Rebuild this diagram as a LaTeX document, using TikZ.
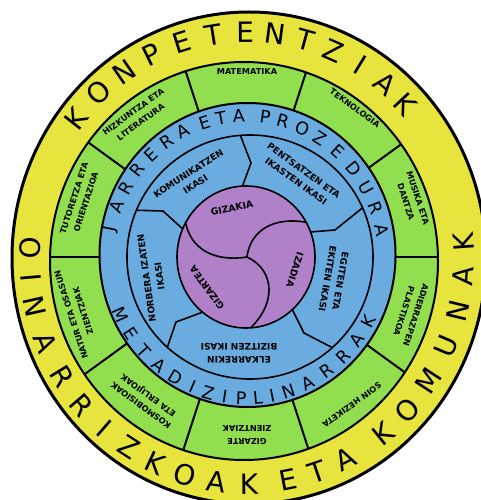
\documentclass[tikz,border=0pt]{standalone}
\usepackage{fontspec}
\setmainfont{DejaVu Sans}
\definecolor{yel}{RGB}{232,228,62}
\definecolor{grn}{RGB}{145,222,78}
\definecolor{blu}{RGB}{106,172,224}
\definecolor{pur}{RGB}{176,128,200}
\tikzset{
 ringletter/.style={font=\fontsize{28}{28}\selectfont, inner sep=0pt},
 bandletter/.style={font=\fontsize{17.5}{17.5}\selectfont, inner sep=0pt},
 greenlab/.style={font=\bfseries\fontsize{8.2}{12.5}\selectfont, align=center, inner sep=0pt},
 bluelab/.style={font=\bfseries\fontsize{9}{13}\selectfont, align=center, inner sep=0pt},
 purplelab/.style={font=\bfseries\fontsize{9.3}{11}\selectfont, inner sep=0pt},
 ringline/.style={line width=2pt},
 thinline/.style={line width=1.6pt},
}
\begin{document}
\begin{tikzpicture}[x=1pt,y=-1pt,line join=round]
\useasboundingbox (0,0) rectangle (481,500);
\fill[white] (0,0) rectangle (481,500);
\clip (0,0) rectangle (481,500);
% outer yellow ring
\filldraw[fill=yel, line width=3pt] (249,258) ellipse [x radius=237pt, y radius=246pt];
% green ring
\filldraw[fill=grn, ringline] (244,261) ellipse [x radius=194pt, y radius=199pt];
\begin{scope}
 \clip (244,261) ellipse [x radius=194pt, y radius=199pt];
 \coordinate (c0) at (246,257);
 \foreach \a [count=\i] in {0,36,...,324}
   \draw[ringline] (c0) -- ++({260*cos(\a)},{-260*sin(\a)}) coordinate (g\i);
\end{scope}
% blue disc
\filldraw[fill=blu, ringline] (247.5,255) ellipse [x radius=148pt, y radius=152pt];
\begin{scope}
 \clip (250,257) ellipse [x radius=123pt, y radius=122pt];
 \draw[thinline] (237.5,128) -- (251,163) -- (241,190);
 \draw[thinline] (366,205) -- (335,230) -- (310,232);
 \draw[thinline] (333,348) -- (304,333) -- (292,309);
 \draw[thinline] (164,357) -- (176,322) -- (203,312);
 \draw[thinline] (128,210) -- (163,211) -- (185,231);
\end{scope}
\draw[thinline] (250,257) ellipse [x radius=123pt, y radius=122pt];
% purple disc
\fill[pur] (246,257) ellipse [x radius=69pt, y radius=71pt];
\begin{scope}
 \clip (246,257) ellipse [x radius=69pt, y radius=71pt];
 \draw[thinline] (185,220) .. controls (190,250) and (215,262) .. (247,257);
 \draw[thinline] (247,257) .. controls (250,232) and (272,215) .. (310,223);
 \draw[thinline] (247,257) .. controls (275,270) and (278,305) .. (246,332);
\end{scope}
\draw[thinline] (246,257) ellipse [x radius=69pt, y radius=71pt];
% outer ring letters
\foreach \l/\a [count=\i] in {K/142,O/133,N/124.5,P/116,E/107.5,T/99,E/90.5,N/82.5,T/74.5,Z/66.5,I/58.5,A/50.5,K/43}
  \node[ringletter, rotate=\a-90] (kt\i) at ({247+217*cos(\a)},{258-226*sin(\a)}) {\l};
\foreach \l/\a [count=\i] in {O/177.5,I/185,N/192.5,A/202,R/211.5,R/220.5,I/229,Z/237,K/245,O/253.5,A/262,K/270.5,E/281,T/289,A/297,K/309,O/317.5,M/327,U/337,N/346.5,A/355.5,K/364}
  \node[ringletter, rotate=\a+90] (kb\i) at ({247+217*cos(\a)},{258-226*sin(\a)}) {\l};
% blue band letters
\foreach \l/\a [count=\i] in {J/168.5,A/159,R/150.5,R/142,E/133.5,R/125,A/117,E/107.5,T/100.5,A/93,P/82,R/74.5,O/66,Z/57.5,E/48.5,D/39,U/29.5,R/20.5,A/11}
  \node[bandletter, rotate=\a-90] (jt\i) at ({246+138*cos(\a)},{257-141*sin(\a)}) {\l};
\foreach \l/\a [count=\i] in {M/204,E/213,T/222,A/230.5,D/239,I/247,Z/254,I/261,P/268,L/275,I/281,N/288,A/297,R/306,R/315,A/324,K/333}
  \node[bandletter, rotate=\a+90] (jb\i) at ({246+137*cos(\a)},{257-141*sin(\a)}) {\l};
% green labels
\node[greenlab] (mat) at (247,72) {MATEMATIKA};
\node[greenlab, rotate=-36] (tek) at (355,108) {TEKNOLOGIA};
\node[greenlab, rotate=36] (hiz) at (137,117) {HIZKUNTZA ETA\\LITERATURA};
\node[greenlab, rotate=-72] (mus) at (412,200) {MUSIKA ETA\\DANTZA};
\node[greenlab, rotate=-108] (adi) at (410,313) {ADIERRAZPEN\\PLASTIKOA};
\node[greenlab, rotate=-144] (soi) at (352,405) {SOIN HEZIKETA};
\node[greenlab, rotate=180] (giz) at (247,435) {GIZARTE\\ZIENTZIAK};
\node[greenlab, rotate=144] (kos) at (145,400) {KOSMOBISIOAK\\ETA ERLIJIOAK};
\node[greenlab, rotate=108] (nat) at (77,313) {NATUR ETA OSASUN\\ZIENTZIAK};
\node[greenlab, rotate=72] (tut) at (80,200) {TUTORETZA ETA\\ORIENTAZIOA};
% blue labels
\node[bluelab, rotate=33] (kom) at (192,179) {KOMUNIKATZEN\\IKASI};
\node[bluelab, rotate=-36] (pen) at (300,176) {PENTSATZEN ETA\\IKASTEN IKASI};
\node[bluelab, rotate=-100] (egi) at (334,280) {EGITEN ETA\\EKITEN IKASI};
\node[bluelab, rotate=180] (elk) at (239,353) {ELKARREKIN\\BIZITZEN IKASI};
\node[bluelab, rotate=98] (nor) at (153,277) {NORBERA IZATEN\\IKASI};
% purple labels
\node[purplelab, rotate=12] (gzk) at (232,208) {GIZAKIA};
\node[purplelab, rotate=-108] (izd) at (295,270) {IZADIA};
\node[purplelab, rotate=126] (gzt) at (207,288) {GIZARTEA};
\end{tikzpicture}
\end{document}
